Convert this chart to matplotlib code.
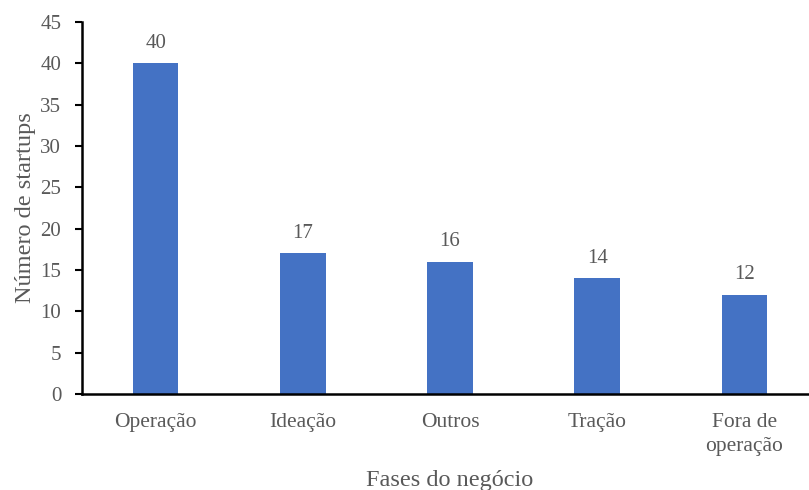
import matplotlib
matplotlib.use("Agg")
import matplotlib.pyplot as plt

# categories and values
fases = ["Operação", "Ideação", "Outros", "Tração", "Fora de\noperação"]
startups = [40, 17, 16, 14, 12]

plt.rcParams['font.family'] = ['Liberation Serif', 'DejaVu Serif']

W, H = 809, 490
fig = plt.figure(figsize=(W / 100, H / 100), dpi=100)
# axis spans from x=82 to ~818 (cropped at the right edge), y from 22 to 394
ax = fig.add_axes([82 / W, 1 - 394 / H, (818 - 82) / W, (394 - 22) / H])

gray = '#595959'
x = range(len(fases))
bars = ax.bar(x, startups, width=0.31, color='#4472C4')

for xi, v in zip(x, startups):
    ax.text(xi, v + 1.3, str(v), ha='center', va='bottom', fontsize=15, color=gray)

ax.set_xlim(-0.5, len(fases) - 0.5)
ax.set_ylim(0, 45)
ax.set_yticks(range(0, 46, 5))
ax.set_xticks(list(x))
ax.set_xticklabels(fases, fontsize=15.5, color=gray, linespacing=1.35)
ax.tick_params(axis='y', labelsize=15, labelcolor=gray, length=5, width=1.5, color='black', pad=10)
ax.tick_params(axis='x', length=0, pad=14)

for s in ['top', 'right']:
    ax.spines[s].set_visible(False)
for s in ['left', 'bottom']:
    ax.spines[s].set_linewidth(1.8)
    ax.spines[s].set_color('black')

ax.set_ylabel('Número de startups', fontsize=17.5, color=gray, labelpad=3)
ax.set_xlabel('Fases do negócio', fontsize=17.5, color=gray, labelpad=10)

fig.savefig('out.png', dpi=100)
